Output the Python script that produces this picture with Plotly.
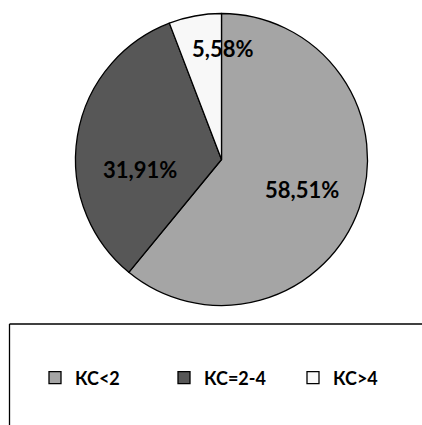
import plotly.graph_objects as go

labels = ["КС<2", "КС=2-4", "КС>4"]
values = [58.51, 31.91, 5.58]
text_labels = ["58,51%", "31,91%", "5,58%"]
colors = ["#a5a5a5", "#575757", "#f8f8f8"]
# label centres in pixels (Excel best-fit placement)
label_px = [(302, 190), (140, 169), (222, 49)]

W, H = 422, 425

fig = go.Figure()
fig.add_trace(go.Pie(
    labels=labels,
    values=values,
    textinfo="none",
    sort=False,
    direction="clockwise",
    rotation=0,
    marker=dict(colors=colors, line=dict(color="#000000", width=1.3)),
    domain=dict(x=[(221.5 - 146) / W, (221.5 + 146) / W],
                y=[1 - 305.5 / H, 1 - 13.5 / H]),
    showlegend=True,
    hoverinfo="skip",
))

annotations = []
for t, (px, py) in zip(text_labels, label_px):
    annotations.append(dict(
        text=t, x=px / W, y=1 - py / H, xref="paper", yref="paper",
        xanchor="center", yanchor="middle", showarrow=False,
        font=dict(family="Lato", size=22, color="#000000", weight="bold"),
    ))

fig.update_layout(
    width=W, height=H,
    margin=dict(l=0, r=0, t=0, b=0),
    paper_bgcolor="white",
    plot_bgcolor="white",
    showlegend=True,
    annotations=annotations,
    legend=dict(
        orientation="h",
        x=52 / W, y=1 - 378 / H,
        xanchor="left", yanchor="middle",
        entrywidth=84, entrywidthmode="pixels",
        font=dict(family="Lato", size=18, color="#000000", weight="bold"),
        bgcolor="rgba(0,0,0,0)",
        itemclick=False,
    ),
    shapes=[
        dict(type="line", xref="paper", yref="paper",
             x0=9.5 / W, x1=1.05, y0=1 - 324 / H, y1=1 - 324 / H,
             line=dict(color="#000000", width=1.3)),
        dict(type="line", xref="paper", yref="paper",
             x0=9.5 / W, x1=9.5 / W, y0=1 - 324 / H, y1=-0.05,
             line=dict(color="#000000", width=1.3)),
    ],
)

fig.write_html("out.html")
